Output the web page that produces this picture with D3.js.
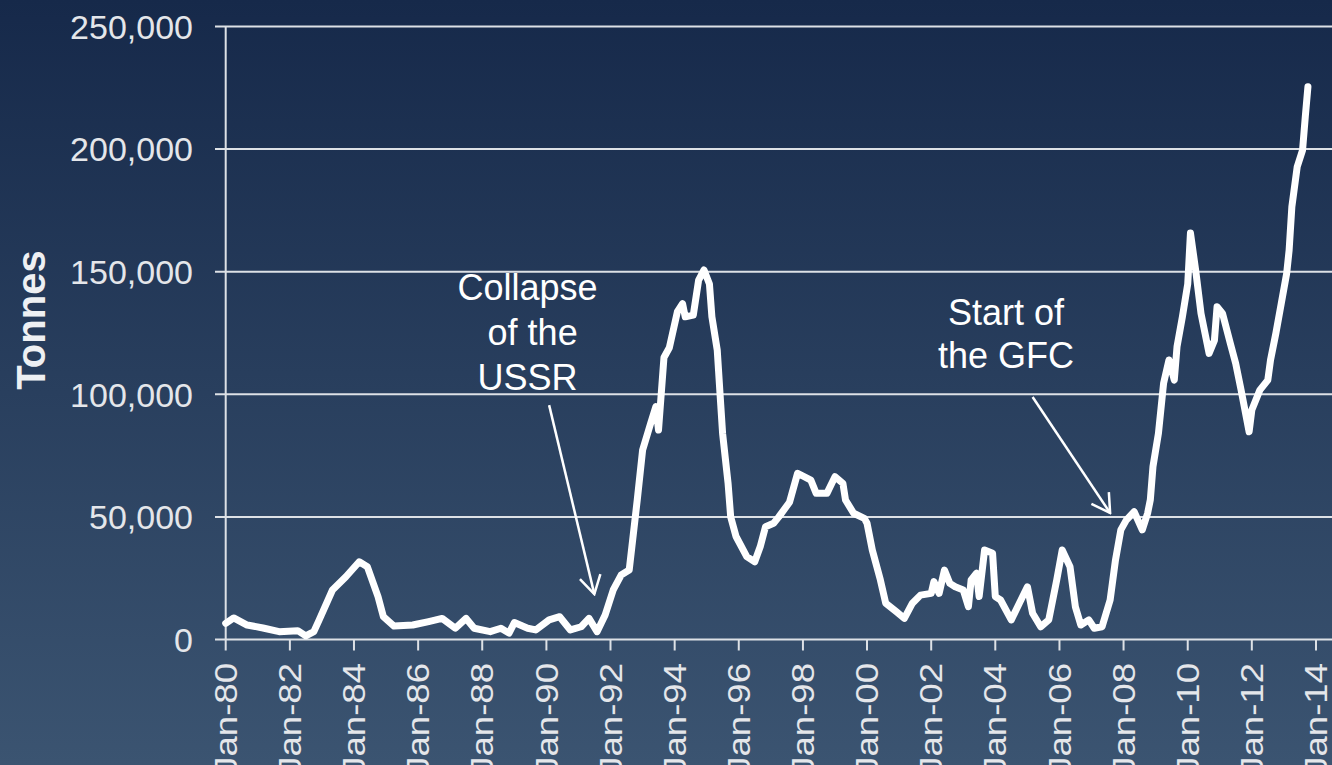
<!DOCTYPE html>
<html>
<head>
<meta charset="utf-8">
<script src="https://cdn.jsdelivr.net/npm/d3@7"></script>
<style>
  html, body { margin: 0; padding: 0; overflow: hidden; }
  svg { display: block; font-family: "Liberation Sans", Arial, sans-serif; }
</style>
</head>
<body>
<svg id="chart" width="1332" height="765"></svg>
<script>
var width = 1332, height = 765;

// monthly readings (tonnes)
var months = ["1980-01","1980-04","1980-09","1981-03","1981-09","1982-04","1982-07","1982-10","1982-12",
  "1983-05","1983-10","1984-03","1984-06","1984-10","1984-12","1985-04","1985-11","1986-05","1986-10",
  "1987-03","1987-07","1987-10","1988-04","1988-08","1988-11","1989-01","1989-06","1989-09","1990-02",
  "1990-06","1990-10","1991-02","1991-05","1991-08","1991-11","1992-02","1992-05","1992-08","1992-11",
  "1993-01","1993-04","1993-06","1993-07","1993-09","1993-11","1994-02","1994-04","1994-05","1994-08",
  "1994-10","1994-12","1995-02","1995-03","1995-05","1995-06","1995-07","1995-09","1995-10","1995-12",
  "1996-04","1996-07","1996-09","1996-11","1997-02","1997-04","1997-08","1997-11","1998-04","1998-06",
  "1998-10","1999-01","1999-04","1999-05","1999-08","1999-12","2000-01","2000-03","2000-06","2000-08",
  "2000-12","2001-03","2001-06","2001-09","2002-01","2002-02","2002-04","2002-06","2002-08","2002-10",
  "2003-01","2003-03","2003-04","2003-06","2003-07","2003-09","2003-12","2004-01","2004-03","2004-07",
  "2004-10","2005-01","2005-03","2005-06","2005-09","2005-12","2006-02","2006-05","2006-07","2006-09",
  "2006-12","2007-02","2007-05","2007-08","2007-10","2007-12","2008-02","2008-05","2008-08","2008-10",
  "2008-11","2008-12","2009-02","2009-04","2009-06","2009-08","2009-09","2009-11","2010-01","2010-02",
  "2010-04","2010-06","2010-09","2010-11","2010-12","2011-02","2011-05","2011-07","2011-09","2011-12",
  "2012-01","2012-04","2012-07","2012-08","2012-10","2012-12","2013-02","2013-03","2013-04","2013-06",
  "2013-08","2013-09","2013-10"];
var tonnes = [6600,8800,5900,4700,3200,3600,1500,3200,8000,
  20200,25600,31700,29700,17500,9300,5500,5900,7300,8600,
  4600,8600,4600,3200,4600,2600,6900,4600,3900,8000,
  9300,3900,5200,8600,3200,10000,20200,26300,28300,57000,
  77300,88000,95000,85400,115000,119000,133700,137000,131600,132300,
  146600,150700,145000,131600,118000,100500,84000,63800,50000,42000,
  33800,31700,37800,46000,47400,50000,56000,67800,65000,59600,
  59600,66400,63700,56900,51500,49400,47400,36500,24300,14800,
  11300,8600,14800,18100,18800,23600,18800,28300,22900,21500,
  20200,13400,24300,27000,17500,36500,35200,17500,16100,8000,
  14800,21500,10700,5200,8000,24300,36500,29700,13400,5900,
  8000,4600,5200,16100,32400,44700,48700,52100,44700,51500,
  57000,70500,84000,104500,114000,105800,119400,131600,145000,165800,
  150700,133000,116700,122000,135700,133000,120800,112600,101700,84700,
  93600,101700,105800,114000,124900,137000,149300,158800,176500,192800,
  199600,213200,225400];

var yTicks = [0, 50000, 100000, 150000, 200000, 250000];
var axisTitle = "Tonnes";

// annotations: text lines, text anchor, arrow start and tip
var noteLines = [["Collapse", " of the", "USSR"], ["Start of", "the GFC"]];
var noteText  = [["1989-06", 138400], ["2004-05", 128300]];
var noteFrom  = [["1990-02", 95600], ["2005-03", 98900]];
var noteTo    = [["1991-07", 18500], ["2007-08", 51600]];

var parse = d3.timeParse("%Y-%m");
var data = months.map(function(m, i){ return {date: parse(m), value: tonnes[i]}; });

var svg = d3.select('#chart');

var grad = svg.append('defs').append('linearGradient')
  .attr('id', 'bg').attr('x1', 0).attr('y1', 0).attr('x2', 0).attr('y2', 1);
grad.append('stop').attr('offset', '0%').attr('stop-color', '#16294a');
grad.append('stop').attr('offset', '100%').attr('stop-color', '#3b5471');

svg.select('defs').append('marker')
  .attr('id', 'head').attr('markerUnits', 'userSpaceOnUse')
  .attr('viewBox', '-20 -12 22 24').attr('refX', 0).attr('refY', 0)
  .attr('markerWidth', 22).attr('markerHeight', 24).attr('orient', 'auto')
  .append('path').attr('d', 'M-18,-10.5L0,0L-18,10.5')
  .attr('fill', 'none').attr('stroke', '#fff').attr('stroke-width', 2.5);

svg.append('rect').attr('width', width).attr('height', height).attr('fill', 'url(#bg)');

var x = d3.scaleTime().domain([new Date(1980, 0, 1), new Date(2014, 0, 1)]).range([225.7, 1316]);
var y = d3.scaleLinear().domain([0, 250000]).range([639.5, 26.5]);

// gridlines + y labels
var grid = svg.append('g').attr('class', 'grid');
grid.selectAll('line').data(yTicks).enter().append('line')
  .attr('x1', 215).attr('x2', width)
  .attr('y1', function(d){ return y(d); }).attr('y2', function(d){ return y(d); })
  .attr('stroke', '#dde1e6').attr('stroke-width', 2);

grid.selectAll('text').data(yTicks).enter().append('text')
  .attr('x', 193).attr('y', function(d){ return y(d); })
  .attr('dy', '0.36em').attr('text-anchor', 'end')
  .attr('fill', '#e4e6ea').attr('font-size', 34)
  .text(d3.format(','));

// y axis line
svg.append('line').attr('x1', x.range()[0]).attr('x2', x.range()[0])
  .attr('y1', y(250000)).attr('y2', y(0))
  .attr('stroke', '#dde1e6').attr('stroke-width', 2);

// x axis ticks + labels
var xTicks = x.ticks(d3.timeYear.every(2));
var xa = svg.append('g').attr('class', 'x-axis');
xa.selectAll('line').data(xTicks).enter().append('line')
  .attr('x1', function(d){ return x(d); }).attr('x2', function(d){ return x(d); })
  .attr('y1', y(0)).attr('y2', y(0) + 11)
  .attr('stroke', '#dde1e6').attr('stroke-width', 2);

xa.selectAll('text').data(xTicks).enter().append('text')
  .attr('transform', function(d){ return 'translate(' + x(d) + ',663) rotate(-90) scale(1.18,1)'; })
  .attr('dy', '0.36em').attr('text-anchor', 'end')
  .attr('fill', '#e4e6ea').attr('font-size', 31)
  .text(d3.timeFormat('%b-%y'));

svg.append('text')
  .attr('transform', 'translate(45,320) rotate(-90)')
  .attr('text-anchor', 'middle')
  .attr('fill', '#eef0f3').attr('font-size', 40).attr('font-weight', 'bold')
  .text(axisTitle);

// the series
var line = d3.line()
  .x(function(d){ return x(d.date); })
  .y(function(d){ return y(d.value); });

svg.append('path').datum(data)
  .attr('d', line)
  .attr('fill', 'none').attr('stroke', '#fff')
  .attr('stroke-width', 7).attr('stroke-linejoin', 'round').attr('stroke-linecap', 'round');

// annotations
noteLines.forEach(function(lines, i){
  var t = svg.append('text')
    .attr('x', x(parse(noteText[i][0]))).attr('y', y(noteText[i][1]))
    .attr('text-anchor', 'middle').attr('fill', '#fff').attr('font-size', 36)
    .attr('xml:space', 'preserve');
  lines.forEach(function(s, j){
    t.append('tspan').attr('x', x(parse(noteText[i][0]))).attr('dy', j ? (i ? 43 : 45) : 0).text(s);
  });
  svg.append('line')
    .attr('x1', x(parse(noteFrom[i][0]))).attr('y1', y(noteFrom[i][1]))
    .attr('x2', x(parse(noteTo[i][0]))).attr('y2', y(noteTo[i][1]))
    .attr('stroke', '#fff').attr('stroke-width', 2.5)
    .attr('marker-end', 'url(#head)');
});
</script>
</body>
</html>
